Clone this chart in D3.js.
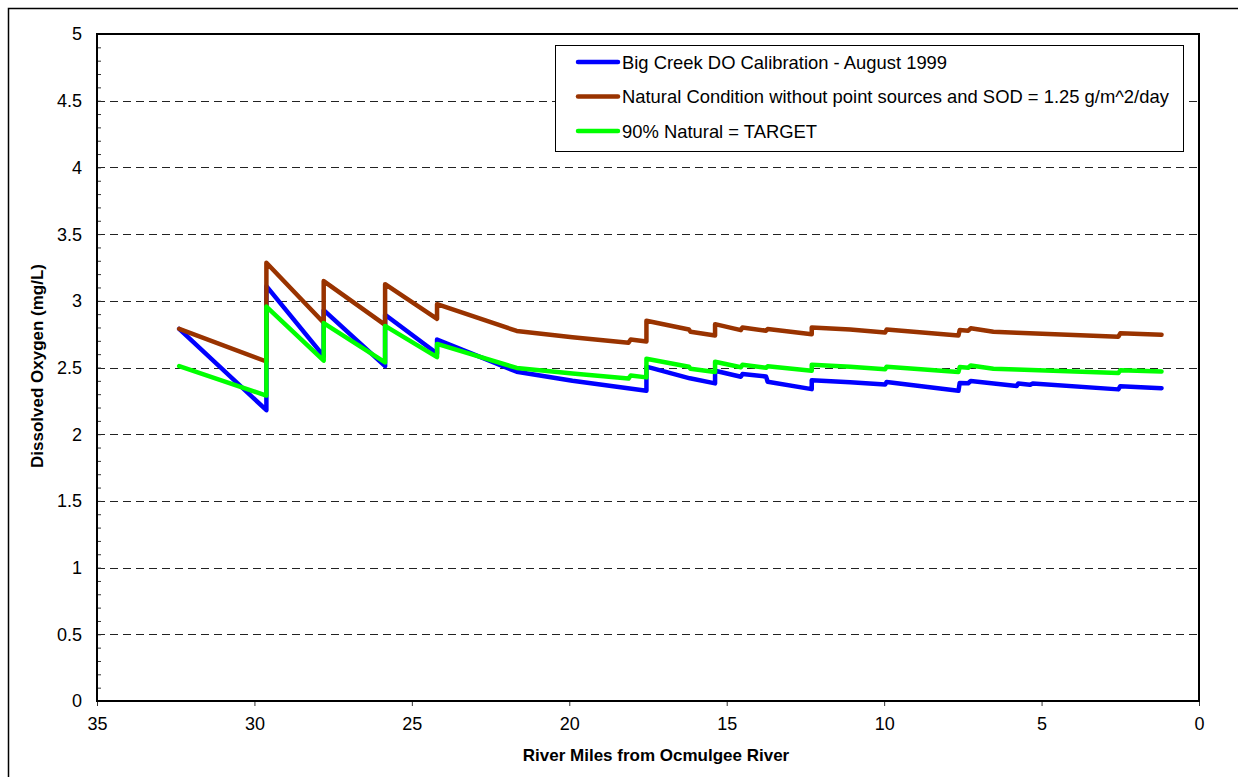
<!DOCTYPE html>
<html>
<head>
<meta charset="utf-8">
<script src="https://cdn.jsdelivr.net/npm/d3@7"></script>
<style>
  html, body { margin: 0; padding: 0; background: #fff; }
  svg { display: block; font-family: Arial, "Liberation Sans", sans-serif; }
</style>
</head>
<body>
<svg id="chart" width="1238" height="777"></svg>
<script>
// ---- data ----
const seriesNames = [
  "Big Creek DO Calibration - August 1999",
  "Natural Condition without point sources and SOD = 1.25 g/m^2/day",
  "90% Natural = TARGET"
];
const seriesColors = ["#0000FF", "#993300", "#00FF00"];

const calibMiles = [32.39, 29.62, 29.62, 27.80, 27.80, 25.85, 25.85, 24.20, 24.20, 21.67, 19.90, 17.55, 17.55,
  16.17, 15.37, 15.37, 14.55, 14.50, 13.75, 13.70, 12.30, 12.30, 11.08, 9.97, 9.92, 7.64, 7.60, 7.33, 7.25,
  5.79, 5.74, 5.37, 5.28, 2.56, 2.50, 1.19];
const calibDO = [2.789, 2.18, 3.11, 2.585, 2.93, 2.51, 2.895, 2.605, 2.71, 2.468, 2.40, 2.326, 2.506,
  2.419, 2.381, 2.476, 2.431, 2.451, 2.432, 2.393, 2.338, 2.405, 2.39, 2.372, 2.392, 2.325, 2.384, 2.382, 2.399,
  2.362, 2.38, 2.37, 2.38, 2.336, 2.36, 2.345];

const naturalMiles = [32.39, 29.62, 29.62, 27.80, 27.80, 25.85, 25.85, 24.20, 24.20, 21.67, 19.90, 18.12, 18.05,
  17.55, 17.55, 16.20, 16.15, 15.37, 15.37, 14.55, 14.50, 13.75, 13.70, 12.30, 12.30, 11.08, 9.97, 9.92,
  7.64, 7.60, 7.33, 7.25, 6.53, 5.79, 2.56, 2.50, 1.19];
const naturalDO = [2.79, 2.545, 3.285, 2.835, 3.148, 2.82, 3.125, 2.865, 2.975, 2.774, 2.727, 2.686, 2.71,
  2.695, 2.85, 2.785, 2.768, 2.74, 2.825, 2.78, 2.80, 2.776, 2.788, 2.75, 2.80, 2.784, 2.762, 2.784,
  2.74, 2.781, 2.776, 2.794, 2.768, 2.761, 2.731, 2.756, 2.746];
const targetDO = [2.511, 2.29, 2.957, 2.551, 2.833, 2.538, 2.812, 2.578, 2.677, 2.497, 2.455, 2.417, 2.44,
  2.426, 2.566, 2.506, 2.49, 2.466, 2.543, 2.502, 2.52, 2.498, 2.509, 2.475, 2.52, 2.506, 2.486, 2.506,
  2.466, 2.503, 2.498, 2.515, 2.49, 2.485, 2.458, 2.48, 2.47];

const xTicks = [35, 30, 25, 20, 15, 10, 5, 0];
const yTicks = [0, 0.5, 1, 1.5, 2, 2.5, 3, 3.5, 4, 4.5, 5];
const xTitle = "River Miles from Ocmulgee River";
const yTitle = "Dissolved Oxygen (mg/L)";

// ---- layout ----
const svg = d3.select("#chart");
const L = 97, R = 1199, T = 34, B = 701;
const FS = 18;
const x = d3.scaleLinear().domain([35, 0]).range([L, R]);
const y = d3.scaleLinear().domain([0, 5]).range([B, T]);

// outer frame (extends past the window, as in the reference)
svg.append("rect").attr("x", 8.5).attr("y", 8.5).attr("width", 1260).attr("height", 800)
  .attr("fill", "none").attr("stroke", "#000").attr("stroke-width", 1.5);

// dashed gridlines
svg.append("g").selectAll("line")
  .data(yTicks.filter(v => v > 0 && v < 5))
  .join("line")
  .attr("x1", L).attr("x2", R)
  .attr("y1", d => Math.round(y(d)) + 0.5).attr("y2", d => Math.round(y(d)) + 0.5)
  .attr("stroke", "#222").attr("stroke-width", 1).attr("stroke-dasharray", "8,5");

// y axis (minor ticks inside every 0.1)
const yAxis = d3.axisRight(y).tickValues(d3.range(0, 51).map(i => i / 10)).tickSize(4).tickFormat("");
const gy = svg.append("g").attr("transform", `translate(${L},0)`).call(yAxis);
gy.select(".domain").remove();
gy.selectAll(".tick line").attr("stroke", "#333");

svg.append("g").selectAll("text").data(yTicks).join("text")
  .attr("x", L - 15).attr("y", d => y(d)).attr("dy", "0.36em")
  .attr("text-anchor", "end").attr("font-size", FS).attr("fill", "#000")
  .text(d => d);

// x axis (outward ticks)
const xAxis = d3.axisBottom(x).tickValues(xTicks).tickSize(5).tickFormat(d => d).tickPadding(11);
const gx = svg.append("g").attr("transform", `translate(0,${B})`).call(xAxis);
gx.select(".domain").remove();
gx.selectAll(".tick line").attr("stroke", "#333");
gx.selectAll(".tick text").attr("font-size", FS).attr("fill", "#000")
  .attr("font-family", "Arial, 'Liberation Sans', sans-serif");

// plot frame
svg.append("rect").attr("x", L).attr("y", T).attr("width", R - L).attr("height", B - T)
  .attr("fill", "none").attr("stroke", "#000").attr("stroke-width", 2);

// series
const line = d3.line().x(d => x(d[0])).y(d => y(d[1]));
const series = [
  { miles: calibMiles, vals: calibDO, color: seriesColors[0] },
  { miles: naturalMiles, vals: naturalDO, color: seriesColors[1] },
  { miles: naturalMiles, vals: targetDO, color: seriesColors[2] }
];
svg.append("g").selectAll("path").data(series).join("path")
  .attr("d", s => line(s.miles.map((m, i) => [m, s.vals[i]])))
  .attr("fill", "none").attr("stroke", s => s.color).attr("stroke-width", 4.5)
  .attr("stroke-linejoin", "round").attr("stroke-linecap", "round");

// axis titles
svg.append("text").attr("x", 656).attr("y", 761).attr("text-anchor", "middle")
  .attr("font-size", 17).attr("font-weight", "bold").text(xTitle);
svg.append("text").attr("transform", `translate(43,366) rotate(-90)`)
  .attr("text-anchor", "middle").attr("font-size", 17).attr("font-weight", "bold").text(yTitle);

// legend
const lg = svg.append("g");
lg.append("rect").attr("x", 555.5).attr("y", 45.5).attr("width", 628).attr("height", 106)
  .attr("fill", "#fff").attr("stroke", "#000").attr("stroke-width", 1);
const rows = lg.selectAll("g").data(seriesNames).join("g")
  .attr("transform", (d, i) => `translate(0,${62 + i * 34.5})`);
rows.append("line").attr("x1", 578).attr("x2", 618).attr("y1", 0).attr("y2", 0)
  .attr("stroke", (d, i) => seriesColors[i]).attr("stroke-width", 4.5).attr("stroke-linecap", "round");
rows.append("text").attr("x", 622).attr("y", 0).attr("dy", "0.36em")
  .attr("font-size", 18.4).attr("fill", "#000").text(d => d);
</script>
</body>
</html>
